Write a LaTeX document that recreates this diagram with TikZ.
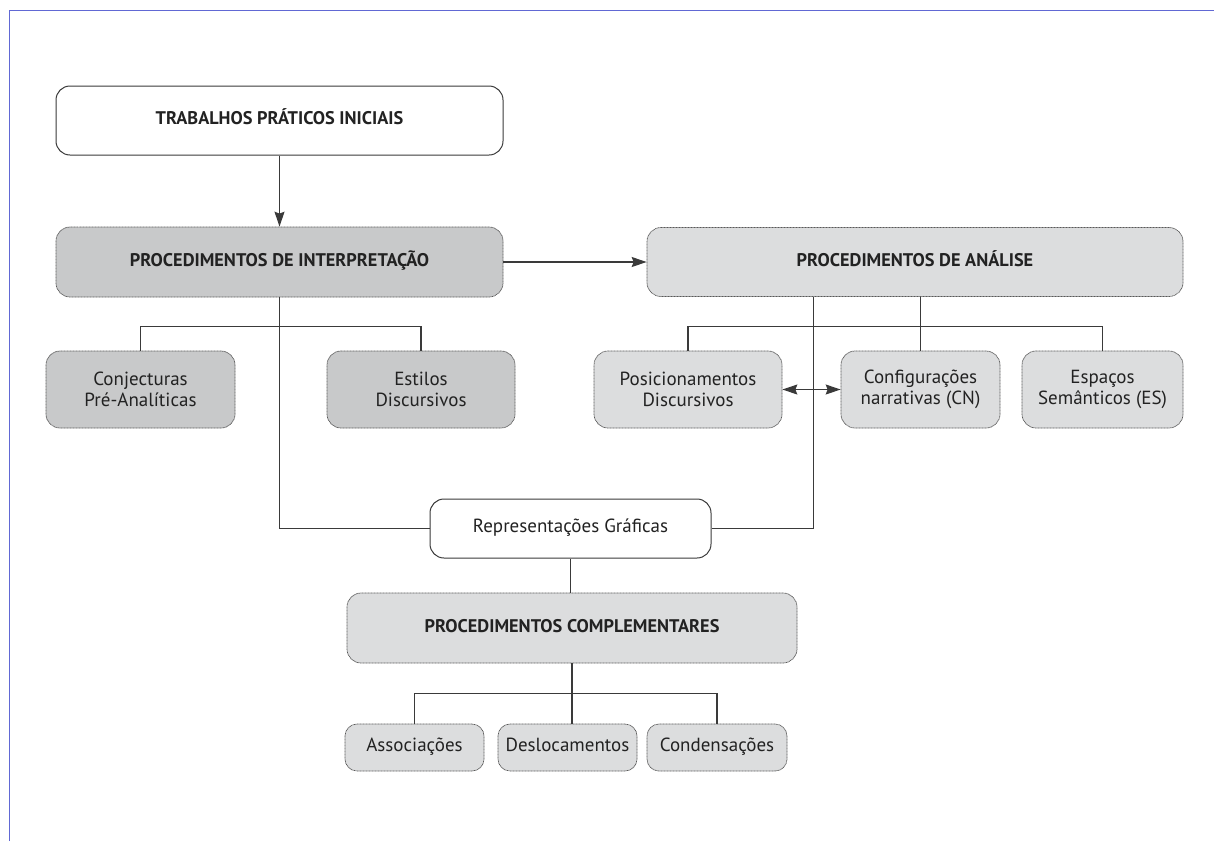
\documentclass[tikz,border=0pt]{standalone}
\usepackage{fontspec}
\setmainfont{PT Sans}
\usetikzlibrary{arrows.meta,calc}
\definecolor{darkbox}{HTML}{C8C9CA}
\definecolor{lightbox}{HTML}{DCDDDE}
\definecolor{frameblue}{HTML}{6168D4}
\definecolor{lineg}{HTML}{3A3A3A}
\definecolor{txt}{HTML}{222222}
\tikzset{
  base/.style={rounded corners=14pt, inner sep=0pt, text=txt, align=center, font=\fontsize{19}{21}\selectfont},
  oneline/.style={text height=2.1ex, text depth=0.5ex},
  whitebox/.style={base, draw=lineg, line width=1pt, fill=white},
  dotbox/.style={base, draw=gray!70!black, line width=0.7pt, dash pattern=on 1pt off 0.5pt},
  darkfill/.style={dotbox, fill=darkbox},
  lightfill/.style={dotbox, fill=lightbox},
  head/.style={font=\fontsize{18.3}{21}\selectfont\bfseries},
  conn/.style={draw=lineg, line width=1.1pt},
  arr/.style={conn, -{Stealth[length=15pt,width=10pt,inset=2pt]}},
  darr/.style={conn, {Stealth[length=15pt,width=10pt,inset=2pt]}-{Stealth[length=15pt,width=10pt,inset=2pt]}}
}
\begin{document}
\begin{tikzpicture}[x=1pt,y=-1pt]
\useasboundingbox (0,0) rectangle (1214,841);
% frame lines
\draw[frameblue, line width=1.5pt] (9.3,841) -- (9.3,10.5) -- (1214,10.5);
% nodes
\node[whitebox, head, oneline, minimum width=447pt, minimum height=69pt] (trab) at (279.5,120.5) {TRABALHOS PRÁTICOS INICIAIS};
\node[darkfill, head, oneline, minimum width=447pt, minimum height=70pt] (interp) at (279.5,262) {PROCEDIMENTOS DE INTERPRETAÇÃO};
\node[lightfill, head, oneline, minimum width=536pt, minimum height=69pt] (anal) at (915,262) {PROCEDIMENTOS DE ANÁLISE};
\node[darkfill, minimum width=189pt, minimum height=77pt] (conj) at (140.5,389.5) {Conjecturas\\Pré-Analíticas};
\node[darkfill, minimum width=188pt, minimum height=77pt] (estil) at (421,389.5) {Estilos\\Discursivos};
\node[lightfill, minimum width=188pt, minimum height=77pt] (posic) at (688,389.5) {Posicionamentos\\Discursivos};
\node[lightfill, minimum width=159pt, minimum height=77pt] (config) at (920.5,389.5) {Configurações\\narrativas (CN)};
\node[lightfill, minimum width=161pt, minimum height=77pt] (espac) at (1102.5,389.5) {Espaços\\Semânticos (ES)};
\node[whitebox, oneline, minimum width=281pt, minimum height=59pt] (repr) at (570.5,528.5) {Representações Gráficas};
\node[lightfill, head, oneline, minimum width=450pt, minimum height=70pt] (compl) at (572,628) {PROCEDIMENTOS COMPLEMENTARES};
\node[lightfill, oneline, rounded corners=12pt, minimum width=139pt, minimum height=47pt] (assoc) at (414.5,747.5) {Associações};
\node[lightfill, oneline, rounded corners=12pt, minimum width=139pt, minimum height=47pt] (desloc) at (567.5,747.5) {Deslocamentos};
\node[lightfill, oneline, rounded corners=12pt, minimum width=140pt, minimum height=47pt] (conden) at (717,747.5) {Condensações};
% connectors
\draw[arr] (trab.south) -- (interp.north);
\draw[arr] (interp.east) -- (anal.west);
\draw[conn] (interp.south) |- (repr.west);
\draw[conn] (conj.north) -- ++(0,-24) -| (estil.north);
\coordinate (aout) at ($(anal.south west)+(167,0)$);
\draw[conn] (aout) |- (repr.east);
\draw[conn] (anal.south -| config.north) -- (config.north);
\draw[conn] (posic.north) -- ++(0,-24) -| (espac.north);
\draw[darr] (posic.east) -- (config.west);
\draw[conn] (repr.south) -- (repr.south |- compl.north);
\draw[conn] (compl.south) -- (compl.south |- desloc.north);
\draw[conn] (assoc.north) -- ++(0,-30) -| (conden.north);
\end{tikzpicture}
\end{document}
